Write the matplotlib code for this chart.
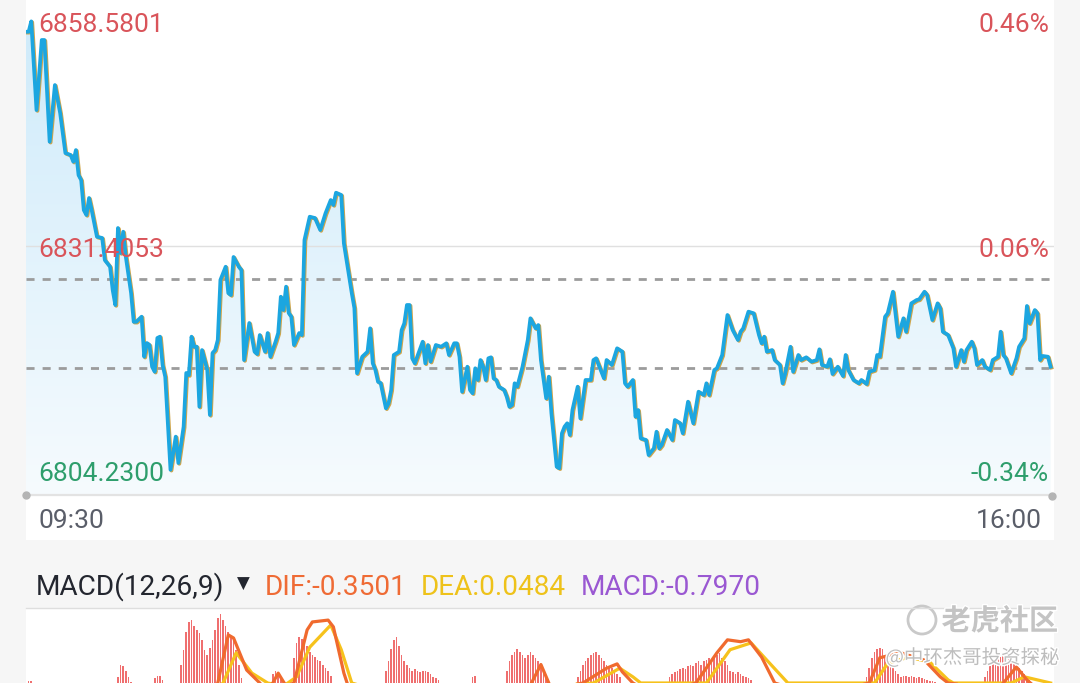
import matplotlib
matplotlib.use('Agg')
import matplotlib.pyplot as plt
import matplotlib.patheffects as pe
import matplotlib.transforms as mtransforms
from matplotlib.patches import Circle, Rectangle
from matplotlib.colors import LinearSegmentedColormap
import numpy as np

W, H = 1080, 683

# intraday price: minutes after 09:30 and index level
minutes = [0, 1, 2, 4, 6, 7, 9, 11, 13, 15,
           17, 18, 19, 20, 21, 22, 23, 24, 25, 27,
           29, 30, 32, 33, 34, 35, 36, 37, 38, 40,
           41, 42, 44, 45, 46, 47, 48, 49, 50, 51,
           52, 53, 55, 57, 58, 60, 61, 62, 63, 64,
           65, 66, 67, 69, 70, 71, 72, 73, 74, 76,
           77, 78, 79, 81, 82, 83, 85, 87, 88, 89,
           91, 92, 93, 95, 96, 97, 98, 99, 100, 101,
           102, 104, 105, 106, 108, 110, 112, 114, 116, 117,
           118, 120, 121, 124, 125, 126, 128, 130, 131, 132,
           133, 134, 135, 137, 138, 139, 140, 142, 143, 144,
           145, 146, 147, 148, 151, 152, 153, 154, 156, 158,
           160, 161, 163, 164, 165, 166, 168, 169, 170, 171,
           172, 173, 174, 175, 176, 177, 178, 179, 180, 182,
           183, 184, 185, 186, 187, 189, 191, 192, 194, 195,
           196, 198, 199, 200, 202, 203, 204, 205, 206, 207,
           208, 210, 211, 213, 215, 216, 217, 220, 221, 223,
           225, 227, 228, 229, 231, 232, 233, 234, 236, 237,
           239, 240, 241, 242, 244, 246, 247, 249, 250, 252,
           254, 256, 258, 259, 260, 262, 263, 265, 267, 269,
           271, 272, 273, 275, 277, 279, 280, 281, 282, 284,
           285, 287, 288, 289, 291, 292, 294, 295, 297, 299,
           301, 302, 303, 305, 306, 307, 309, 311, 312, 313,
           315, 317, 318, 320, 321, 323, 324, 325, 327, 328,
           330, 332, 334, 335, 337, 339, 340, 342, 343, 345,
           347, 348, 349, 351, 353, 354, 356, 357, 358, 360,
           361, 362, 364, 365, 367, 368, 370, 371, 372, 373,
           375, 377, 378, 380, 381, 382, 384, 385, 386, 387,
           389, 390]
price = [6857.32, 6857.32, 6858.58, 6847.83, 6856.32, 6856.32, 6843.99, 6850.86, 6847.47, 6842.62,
         6842.38, 6841.57, 6842.98, 6839.95, 6839.35, 6835.71, 6835.11, 6837.17, 6835.71, 6832.48,
         6832.32, 6829.65, 6828.84, 6826.02, 6824.20, 6833.53, 6830.50, 6833.08, 6830.05, 6825.65,
         6822.17, 6822.17, 6822.78, 6817.93, 6819.59, 6819.35, 6816.72, 6816.11, 6820.20, 6820.36,
         6816.93, 6815.51, 6804.23, 6808.24, 6805.05, 6809.45, 6815.96, 6815.71, 6820.36, 6819.14,
         6819.14, 6811.87, 6818.74, 6816.32, 6810.87, 6818.38, 6818.74, 6819.96, 6827.23, 6828.84,
         6825.65, 6825.41, 6830.02, 6828.84, 6828.44, 6817.53, 6822.02, 6818.54, 6818.26, 6820.56,
         6818.54, 6820.80, 6817.93, 6819.75, 6820.80, 6825.20, 6823.59, 6826.42, 6823.23, 6822.78,
         6819.35, 6820.80, 6820.56, 6832.08, 6834.90, 6834.74, 6833.29, 6835.31, 6836.92, 6836.32,
         6837.81, 6837.53, 6831.68, 6825.65, 6823.83, 6815.92, 6817.93, 6818.54, 6821.37, 6817.13,
         6816.32, 6814.90, 6814.74, 6811.68, 6812.28, 6813.90, 6818.14, 6818.54, 6821.17, 6821.98,
         6824.20, 6824.20, 6817.74, 6817.13, 6819.75, 6817.13, 6819.35, 6817.33, 6819.35, 6819.14,
         6819.56, 6818.14, 6819.56, 6819.56, 6817.93, 6813.69, 6816.72, 6813.90, 6813.50, 6816.53,
         6815.11, 6817.53, 6816.72, 6815.11, 6817.74, 6817.86, 6815.31, 6815.11, 6814.30, 6813.90,
         6813.08, 6811.87, 6812.08, 6814.71, 6814.30, 6816.72, 6819.96, 6822.59, 6821.37, 6821.77,
         6817.53, 6812.89, 6815.51, 6811.07, 6804.60, 6804.41, 6808.65, 6809.45, 6809.86, 6808.44,
         6811.47, 6814.30, 6810.47, 6815.11, 6815.11, 6817.53, 6817.74, 6815.31, 6817.53, 6816.93,
         6818.95, 6818.54, 6814.71, 6814.30, 6815.11, 6810.66, 6811.47, 6808.04, 6807.84, 6806.02,
         6806.83, 6808.84, 6806.83, 6807.23, 6809.05, 6807.84, 6810.26, 6809.86, 6808.65, 6812.48,
         6809.86, 6813.69, 6813.29, 6814.71, 6813.29, 6816.32, 6816.53, 6818.14, 6822.99, 6821.17,
         6819.96, 6820.96, 6821.37, 6823.39, 6823.19, 6820.56, 6819.56, 6820.36, 6818.54, 6818.74,
         6817.53, 6816.93, 6814.71, 6815.92, 6819.14, 6816.11, 6818.14, 6817.53, 6817.86, 6817.33,
         6817.53, 6818.83, 6816.93, 6816.72, 6817.62, 6815.84, 6816.72, 6815.59, 6818.14, 6816.32,
         6815.11, 6814.71, 6815.11, 6814.62, 6816.11, 6816.32, 6818.14, 6817.93, 6822.78, 6823.19,
         6825.81, 6820.36, 6822.59, 6820.96, 6824.40, 6824.80, 6824.89, 6825.81, 6825.41, 6822.38,
         6824.40, 6823.80, 6820.96, 6820.56, 6818.95, 6816.72, 6818.74, 6817.33, 6818.74, 6819.75,
         6818.95, 6816.93, 6817.53, 6816.72, 6816.32, 6817.53, 6817.93, 6820.96, 6818.14, 6817.74,
         6815.92, 6817.74, 6819.14, 6820.16, 6824.08, 6821.98, 6823.59, 6823.19, 6817.53, 6818.02,
         6817.93, 6816.72]

price_labels = ['6858.5801', '6831.4053', '6804.2300']
price_levels = [6858.5801, 6831.4053, 6804.2300]
pct_labels = ['0.46%', '0.06%', '-0.34%']
prev_close = 6827.3
ref_line = 6816.6
time_labels = ['09:30', '16:00']

# MACD panel (only the top of it is on screen)
hist_starts = [1, 35, 49, 59, 94, 102, 137, 170, 183, 210, 245, 320, 365]
hist_blocks = [
    [1.03, 1.03],
    [1.10, 1.29, 1.27, 1.20, 1.10, 1.02],
    [1.08, 1.12, 1.11, 1.05],
    [1.29, 1.54, 1.83, 1.99, 2.02, 1.92, 1.86, 1.81, 1.70, 1.54, 1.45, 1.57,
     1.70, 1.86, 2.05, 2.12, 2.02, 1.92, 1.83, 1.75, 1.70, 1.54, 1.29, 1.08],
    [1.15, 1.20, 1.18, 1.10],
    [1.40, 1.65, 1.75, 1.72, 1.68, 1.60, 1.50, 1.45, 1.42, 1.38, 1.35, 1.30, 1.25, 1.20, 1.12],
    [1.20, 1.35, 1.55, 1.70, 1.75, 1.60, 1.45, 1.35, 1.30, 1.25, 1.20, 1.22, 1.20, 1.18,
     1.20, 1.20, 1.18, 1.15, 1.10, 1.08, 1.05],
    [1.10, 1.12],
    [1.20, 1.35, 1.45, 1.50, 1.55, 1.50, 1.45, 1.40, 1.45, 1.50, 1.45, 1.40, 1.35, 1.30, 1.20, 1.10],
    [1.10, 1.20, 1.30, 1.35, 1.40, 1.45, 1.48, 1.50, 1.45, 1.40, 1.35, 1.30, 1.28, 1.25, 1.20, 1.15, 1.10],
    [1.10, 1.15, 1.18, 1.20, 1.22, 1.25, 1.22, 1.28, 1.30, 1.28, 1.32, 1.35, 1.30, 1.35, 1.38, 1.40,
     1.35, 1.42, 1.45, 1.48, 1.40, 1.35, 1.30, 1.20, 1.18, 1.15, 1.18, 1.15, 1.12, 1.10, 1.08, 1.05],
    [1.10, 1.25, 1.40, 1.50, 1.55, 1.57, 1.55, 1.45, 1.38, 1.30, 1.25, 1.20, 1.15, 1.10,
     1.12, 1.12, 1.10, 1.12, 1.10, 1.08, 1.10, 1.08, 1.06, 1.05, 1.04, 1.03, 1.02],
    [1.10, 1.20, 1.28, 1.32, 1.38, 1.40, 1.42, 1.45, 1.40, 1.45, 1.40, 1.35, 1.30, 1.25, 1.20, 1.15, 1.10, 1.05],
]
dif_t = [0, 68, 73, 77, 79, 84, 89, 92, 96, 99, 102, 107, 109, 115, 117, 121, 123, 135,
         190, 196, 200, 212, 221, 225, 227, 231, 240, 255, 263, 267, 272, 275, 280, 285,
         300, 321, 325, 333, 342, 348, 351, 370, 372, 377, 381, 385, 390]
dif_v = [0.5, 0.7, 1.0, 1.78, 1.73, 1.21, 1.0, 0.85, 1.16, 0.95, 1.0, 1.86, 1.99, 2.02, 1.91, 1.16, 0.9, 0.7,
         0.8, 1.3, 0.9, 1.0, 1.24, 1.31, 1.18, 1.0, 0.8, 1.0, 1.49, 1.70, 1.67, 1.70, 1.42, 1.0,
         0.8, 1.0, 1.41, 1.49, 1.37, 1.10, 1.0, 0.9, 1.0, 1.26, 1.05, 0.9, 0.85]
dea_t = [0, 70, 75, 80, 86, 92, 98, 103, 108, 116, 120, 124, 140, 216, 226, 231, 234,
         259, 268, 276, 282, 290, 323, 328, 336, 344, 351, 353, 375, 380, 390]
dea_v = [0.5, 0.8, 1.0, 1.49, 1.16, 1.0, 0.95, 1.10, 1.58, 1.94, 1.54, 1.0, 0.8, 1.0, 1.24, 1.10, 1.0,
         1.0, 1.54, 1.65, 1.37, 1.0, 1.0, 1.32, 1.42, 1.34, 1.05, 1.0, 1.0, 1.10, 1.0]


def px_axes(x0, y0, x1, y1):
    return fig.add_axes([x0 / W, 1 - y1 / H, (x1 - x0) / W, (y1 - y0) / H])


def fx(x):
    return x / W


def fy(y):
    return 1 - y / H


font = 'Roboto'
fig = plt.figure(figsize=(W / 100, H / 100), dpi=100)
fig.patch.set_facecolor('#f6f6f6')

# white card behind the price chart and the macd body
fig.add_artist(Rectangle((fx(26), fy(540)), (1054 - 26) / W, 540 / H, transform=fig.transFigure,
                         facecolor='white', edgecolor='none', zorder=0))
fig.add_artist(Rectangle((fx(26), fy(683)), (1054 - 26) / W, (683 - 609) / H, transform=fig.transFigure,
                         facecolor='white', edgecolor='none', zorder=0))

# ---- price chart ----
ax = px_axes(26, 0, 1054, 495)
ax.patch.set_alpha(0)
xmax = 391.3
ylo, yhi = 6801.17, 6861.17
ax.set_xlim(0, xmax)
ax.set_ylim(ylo, yhi)
for s in ax.spines.values():
    s.set_visible(False)
ax.set_xticks([])
ax.set_yticks([])

# gradient area under the line
grad = np.linspace(0, 1, 256).reshape(-1, 1)
cmap = LinearSegmentedColormap.from_list('g', ['#cdeafa', '#f6fbfe'])
area = ax.fill_between(minutes, price, ylo, color='none', lw=0)
im = ax.imshow(grad, cmap=cmap, aspect='auto', extent=[0, xmax, ylo, yhi], origin='upper', zorder=1)
im.set_clip_path(area.get_paths()[0], transform=ax.transData)

ax.axhline(price_levels[1], color='#e0e0e0', lw=1.0, zorder=2)
for lvl in [prev_close, ref_line]:
    ax.axhline(lvl, color='#9c9c9c', lw=2.0, dashes=(2.9, 2.9), zorder=2)
ax.axhline(ylo, color='#e3e3e3', lw=1.6, zorder=2, clip_on=False)
ax.plot([0, 390.5], [ylo, ylo - 0.15], 'o', ms=5, color='#b4b4b4', clip_on=False, zorder=3)

ax.plot(minutes, price, color='#1ca6e0', lw=2.7, solid_joinstyle='round', zorder=4,
        path_effects=[pe.Stroke(linewidth=2.7, foreground='#d0a54a', offset=(0.7, -0.6)), pe.Normal()])

# price / percent labels sit with their baseline 11 px under the level
trans = mtransforms.blended_transform_factory(ax.transAxes, ax.transData)
trans = mtransforms.offset_copy(trans, fig=fig, y=-11, units='dots')
label_colors = ['#d9545a', '#d9545a', '#2e9e6c']
for lab, lvl, pct, c in zip(price_labels, price_levels, pct_labels, label_colors):
    ax.text(12 / 1028, lvl, lab, transform=trans, ha='left', va='baseline', fontsize=19,
            color=c, family=font, zorder=5)
    ax.text((1049 - 26) / 1028, lvl, pct, transform=trans, ha='right', va='baseline', fontsize=19,
            color=c, family=font, zorder=5)

fig.text(fx(38), fy(528), time_labels[0], ha='left', va='baseline', fontsize=19, color='#5a5e69', family=font)
fig.text(fx(1042), fy(528), time_labels[1], ha='right', va='baseline', fontsize=19, color='#5a5e69', family=font)

# ---- MACD header ----
hy = fy(595)
fig.text(fx(36), hy, 'MACD(12,26,9)', ha='left', va='baseline', fontsize=20.2, color='#23262f', family=font)
fig.text(fx(243), fy(584), '▼', ha='center', va='center', fontsize=12, color='#23262f', family='DejaVu Sans')
fig.text(fx(265), hy, 'DIF:-0.3501', ha='left', va='baseline', fontsize=20.2, color='#ef6b35', family=font)
fig.text(fx(421), hy, 'DEA:0.0484', ha='left', va='baseline', fontsize=20.2, color='#eec21a', family=font)
fig.text(fx(581), hy, 'MACD:-0.7970', ha='left', va='baseline', fontsize=20.2, color='#9a58d2', family=font)
fig.add_artist(plt.Line2D([fx(26), fx(1054)], [fy(608), fy(608)], transform=fig.transFigure,
                          color='#dedede', lw=1.0))

# ---- MACD body ----
ax2 = px_axes(26, 609, 1054, 683)
ax2.patch.set_alpha(0)
ax2.set_xlim(0, xmax)
ax2.set_ylim(1.0, 2.2)
for s in ax2.spines.values():
    s.set_visible(False)
ax2.set_xticks([])
ax2.set_yticks([])
for st, block in zip(hist_starts, hist_blocks):
    ax2.bar(np.arange(st, st + len(block)), block, width=0.62, color='#ef6f6f', lw=0)
ax2.plot(dea_t, dea_v, color='#f6c21c', lw=2.3)
ax2.plot(dif_t, dif_v, color='#f06a2e', lw=2.3)

# ---- watermark ----
halo = [pe.withStroke(linewidth=2, foreground='white')]
fig.add_artist(Circle((922 / 100, (H - 620) / 100), 0.14, transform=fig.dpi_scale_trans,
                      facecolor='none', edgecolor='#c9c9c9', lw=2.0))
fig.text(fx(1058), fy(621), '老虎社区', ha='right', va='center', fontsize=21, color='#c4c4c4',
         family=['Noto Sans CJK SC', 'DejaVu Sans'], weight='bold', path_effects=halo)
fig.text(fx(1060), fy(658), '@中环杰哥投资探秘', ha='right', va='center', fontsize=14, color='#bdbdbd',
         family=['Noto Sans CJK SC', 'DejaVu Sans'], path_effects=halo)

fig.savefig('out.png', dpi=100, facecolor=fig.get_facecolor())
